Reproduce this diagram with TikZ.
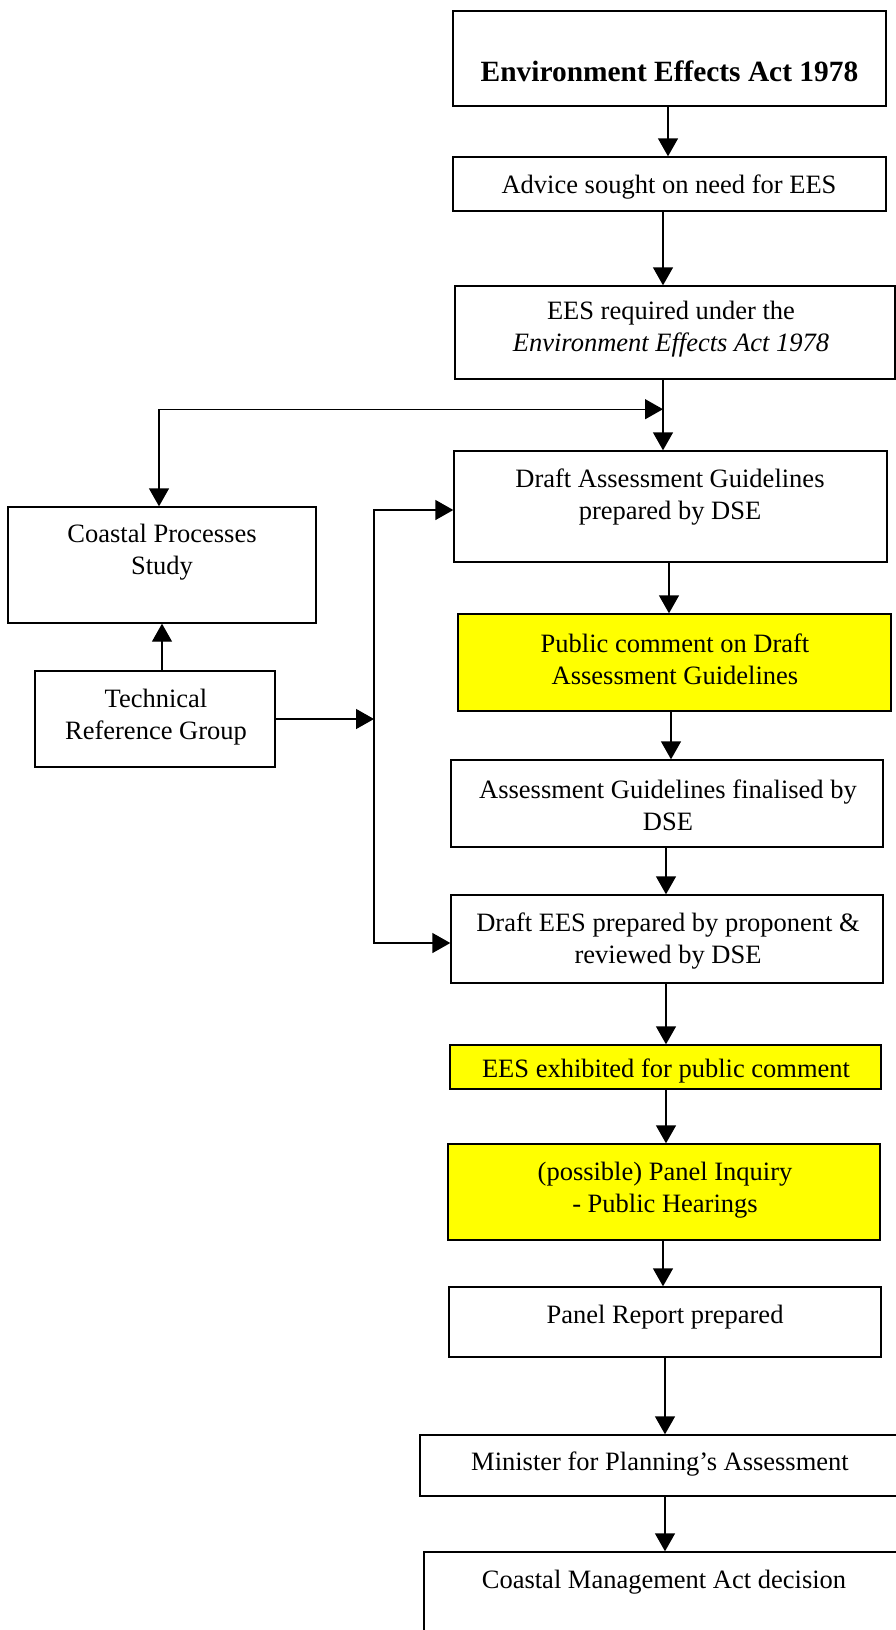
\documentclass[tikz,border=0pt]{standalone}
\usepackage{fontspec}
\setmainfont{Liberation Serif}
\usetikzlibrary{arrows.meta,calc}
\definecolor{hl}{RGB}{255,255,0}
\begin{document}
\begin{tikzpicture}[x=1pt,y=-1pt,
  box/.style={draw, line width=1.4pt, rectangle, inner sep=0pt},
  hbox/.style={box, fill=hl},
  txt/.style={font=\fontsize{26.5}{32}\selectfont, align=center, inner sep=0pt, yshift=-3pt},
  arr/.style={line width=1.4pt, -{Triangle[length=18pt,width=20pt]}},
  arrtwo/.style={line width=1.4pt, {Triangle[length=18pt,width=20pt]}-{Triangle[length=18pt,width=20pt]}}
]
\useasboundingbox (0,0) rectangle (896,1630);
\clip (0,0) rectangle (896,1630);

% boxes
\node[box, minimum width=433pt, minimum height=95pt] (env) at (669.5,58.5) {};
\node[box, minimum width=433pt, minimum height=54pt] (adv) at (669.5,184) {};
\node[box, minimum width=440pt, minimum height=93pt] (req) at (675,332.5) {};
\node[box, minimum width=433pt, minimum height=111pt] (dag) at (670.5,506.5) {};
\node[box, minimum width=308pt, minimum height=116pt] (cps) at (162,565) {};
\node[box, minimum width=240pt, minimum height=96pt] (trg) at (155,719) {};
\node[hbox, minimum width=433pt, minimum height=97pt] (pub) at (674.5,662.5) {};
\node[box, minimum width=432pt, minimum height=87pt] (fin) at (667,803.5) {};
\node[box, minimum width=432pt, minimum height=88pt] (dees) at (667,939) {};
\node[hbox, minimum width=431pt, minimum height=44pt] (exh) at (665.5,1067) {};
\node[hbox, minimum width=432pt, minimum height=96pt] (pinq) at (664,1192) {};
\node[box, minimum width=432pt, minimum height=70pt] (prep) at (665,1322) {};
\node[box, minimum width=490pt, minimum height=61pt] (min) at (665,1465.5) {};
\node[box, minimum width=486pt, minimum height=98pt] (cma) at (667,1601) {};

% texts
\node[txt, font=\fontsize{29.4}{35}\selectfont\bfseries, yshift=2pt] (envt) at (669.5,70.7) {Environment Effects Act 1978};
\node[txt] (advt) at (669,184) {Advice sought on need for EES};
\node[txt] (reqt) at (671,326) {EES required under the\\\textit{Environment Effects Act 1978}};
\node[txt] (dagt) at (670,494) {Draft Assessment Guidelines\\prepared by DSE};
\node[txt] (cpst) at (162,549) {Coastal Processes\\Study};
\node[txt] (trgt) at (156,714) {Technical\\Reference Group};
\node[txt] (pubt) at (675,656) {Public comment on Draft\\Assessment Guidelines};
\node[txt] (fint) at (668,802) {Assessment Guidelines finalised by\\DSE};
\node[txt] (deest) at (668,938.5) {Draft EES prepared by proponent \&\\reviewed by DSE};
\node[txt] (exht) at (666,1067.5) {EES exhibited for public comment};
\node[txt] (pinqt) at (665,1187) {(possible) Panel Inquiry\\- Public Hearings};
\node[txt] (prept) at (665,1314) {Panel Report prepared};
\node[txt] (mint) at (660,1461) {Minister for Planning’s Assessment};
\node[txt] (cmat) at (664,1579) {Coastal Management Act decision};

% connectors
\coordinate (j1) at ($(req.south)+(-12,29.5)$);
\coordinate (bt) at (374,510);
\coordinate (bb) at (374,943);

\draw[arr] ([xshift=-1.5pt]env.south) -- ([xshift=-1.5pt]env.south |- adv.north);
\draw[arr] ([xshift=-6.5pt]adv.south) -- ([xshift=-6.5pt]adv.south |- req.north);
\draw[arr] ([xshift=-12pt]req.south) -- ([xshift=-12pt]req.south |- dag.north);
\draw[arrtwo] ([xshift=-3pt]cps.north) |- (j1);
\draw[arr] (trg.north -| cps.south) -- (cps.south);
\draw[arr] (trg.east) -- (trg.east -| bt);
\draw[arrtwo] (bt -| dag.west) -- (bt) -- (bb) -- (bb -| dees.west);
\draw[arr] ([xshift=-1.5pt]dag.south) -- ([xshift=-1.5pt]dag.south |- pub.north);
\draw[arr] ([xshift=-3.5pt]pub.south) -- ([xshift=-3.5pt]pub.south |- fin.north);
\draw[arr] ([xshift=-1pt]fin.south) -- ([xshift=-1pt]fin.south |- dees.north);
\draw[arr] ([xshift=-1pt]dees.south) -- ([xshift=-1pt]dees.south |- exh.north);
\draw[arr] ([xshift=0.5pt]exh.south) -- ([xshift=0.5pt]exh.south |- pinq.north);
\draw[arr] ([xshift=-1pt]pinq.south) -- ([xshift=-1pt]pinq.south |- prep.north);
\draw[arr] (prep.south) -- (prep.south |- min.north);
\draw[arr] (min.south) -- (min.south |- cma.north);
\end{tikzpicture}
\end{document}
